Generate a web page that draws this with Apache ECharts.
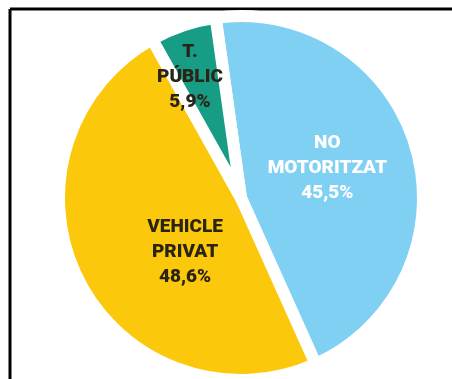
<!DOCTYPE html>
<html>
<head>
<meta charset="utf-8">
<script src="https://cdn.jsdelivr.net/npm/echarts@6/dist/echarts.min.js"></script>
<style>
  html, body { margin: 0; padding: 0; background: #ffffff; }
  #chart { width: 452px; height: 379px; }
</style>
</head>
<body>
<div id="chart"></div>
<script>
// Modal split of trips (percent)
const categories = ['NO\nMOTORITZAT', 'VEHICLE\nPRIVAT', 'T.\nPÚBLIC'];
const shares = [45.5, 48.6, 5.9];
const valueLabels = ['45,5%', '48,6%', '5,9%'];

const sliceColors = ['#80d0f4', '#fcc80b', '#179c85'];
const textColors = ['#ffffff', '#2a2417', '#2a2417'];
// nudges applied to the default inside-label position of each slice
const labelNudge = [[-4, -4], [28, 12], [-21, -32]];

const chart = echarts.init(document.getElementById('chart'), null, { renderer: 'canvas' });

const data = categories.map((name, i) => ({
  name: name,
  value: shares[i],
  itemStyle: { color: sliceColors[i] },
  label: { color: textColors[i] }
}));

chart.setOption({
  backgroundColor: '#ffffff',
  animation: false,
  graphic: [
    { type: 'line', shape: { x1: 10, y1: 9, x2: 452, y2: 9 }, style: { stroke: '#000000', lineWidth: 3 } },
    { type: 'line', shape: { x1: 10, y1: 9, x2: 10, y2: 379 }, style: { stroke: '#000000', lineWidth: 3 } }
  ],
  series: [{
    type: 'pie',
    center: [241, 198],
    radius: [0, 182],
    startAngle: 98,
    clockwise: true,
    data: data,
    itemStyle: { borderColor: '#ffffff', borderWidth: 12, borderJoin: 'round' },
    label: {
      show: true,
      position: 'inside',
      formatter: p => p.name + '\n' + valueLabels[p.dataIndex],
      fontFamily: 'Roboto, sans-serif',
      fontWeight: 900,
      fontSize: 19,
      lineHeight: 25,
      align: 'center'
    },
    labelLine: { show: false },
    labelLayout: p => ({ dx: labelNudge[p.dataIndex][0], dy: labelNudge[p.dataIndex][1] }),
    emphasis: { disabled: true }
  }]
});
</script>
</body>
</html>
